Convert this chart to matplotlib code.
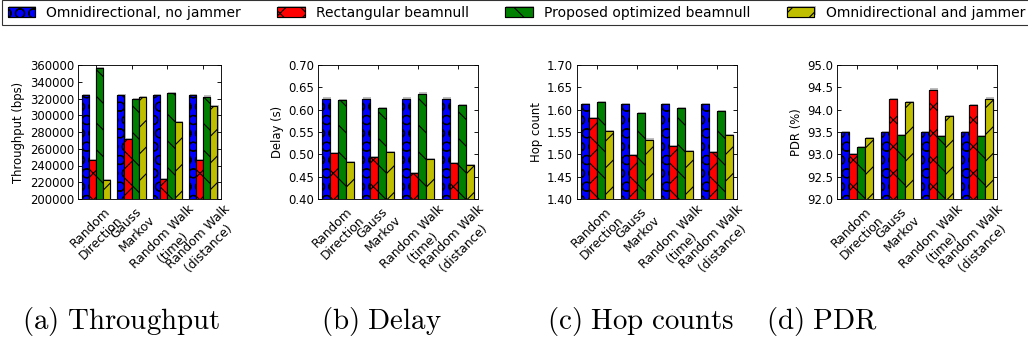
import numpy as np
import matplotlib
matplotlib.use("Agg")
import matplotlib.pyplot as plt
import matplotlib.patheffects as pe
from matplotlib.ticker import FormatStrFormatter

categories = ["Random\nDirection", "Gauss\nMarkov", "Random Walk\n(time)", "Random Walk\n(distance)"]
series_names = ["Omnidirectional, no jammer", "Rectangular beamnull",
                "Proposed optimized beamnull", "Omnidirectional and jammer"]

throughput_omni = [324000, 324000, 324000, 324000]
throughput_rect = [246500, 271500, 223800, 246500]
throughput_opt = [356400, 319500, 326600, 322300]
throughput_jam = [222600, 321500, 291700, 310800]

delay_omni = [0.625, 0.625, 0.625, 0.625]
delay_rect = [0.503, 0.494, 0.459, 0.480]
delay_opt = [0.622, 0.603, 0.636, 0.610]
delay_jam = [0.482, 0.505, 0.489, 0.476]

hop_omni = [1.613, 1.613, 1.613, 1.613]
hop_rect = [1.581, 1.499, 1.518, 1.505]
hop_opt = [1.617, 1.593, 1.603, 1.597]
hop_jam = [1.552, 1.533, 1.507, 1.543]

pdr_omni = [93.50, 93.50, 93.50, 93.50]
pdr_rect = [93.00, 94.24, 94.45, 94.10]
pdr_opt = [93.16, 93.44, 93.41, 93.40]
pdr_jam = [93.37, 94.17, 93.86, 94.25]

colors = [(0, 0, 1), (1, 0, 0), (0, 0.5, 0), (0.75, 0.75, 0)]
hatches = ["O", "x", "\\", "/"]

plt.rcParams["xtick.direction"] = "in"
plt.rcParams["ytick.direction"] = "in"
plt.rcParams["xtick.top"] = True
plt.rcParams["ytick.right"] = True
plt.rcParams["hatch.linewidth"] = 1.0
plt.rcParams["mathtext.fontset"] = "cm"

DPI = 80
W, H = 1028, 345
fig = plt.figure(figsize=(W / DPI, H / DPI), dpi=DPI)

shadow = [pe.withSimplePatchShadow(offset=(1, 1), shadow_rgbFace="0.5", alpha=0.5, hatch=None), pe.Normal()]


def add_axes(left, right, top, bottom):
    return fig.add_axes([left / W, 1 - bottom / H, (right - left) / W, (bottom - top) / H])


panels = [
    ((78, 221, 65, 199), [throughput_omni, throughput_rect, throughput_opt, throughput_jam],
     "Throughput (bps)", (200000, 360000), 20000, "%d", r"$\mathrm{(a)\ Throughput}$", 121),
    ((318, 478, 65, 199), [delay_omni, delay_rect, delay_opt, delay_jam],
     "Delay (s)", (0.40, 0.70), 0.05, "%.2f", r"$\mathrm{(b)\ Delay}$", 381),
    ((577, 737, 65, 199), [hop_omni, hop_rect, hop_opt, hop_jam],
     "Hop count", (1.40, 1.70), 0.05, "%.2f", r"$\mathrm{(c)\ Hop\ counts}$", 641),
    ((837, 997, 65, 199), [pdr_omni, pdr_rect, pdr_opt, pdr_jam],
     "PDR (%)", (92.0, 95.0), 0.5, "%.1f", r"$\mathrm{(d)\ PDR}$", 822),
]

ind = np.arange(len(categories))
width = 0.2
handles = []
for box, series, ylabel, ylim, step, fmt, caption, cx in panels:
    ax = add_axes(*box)
    handles = []
    for i, vals in enumerate(series):
        bars = ax.bar(ind + i * width, vals, width, align="edge", color=colors[i],
                      edgecolor="black", linewidth=1.0, hatch=hatches[i])
        for b in bars:
            b.set_path_effects(shadow)
        handles.append(bars)
    ax.set_xlim(-0.1, 3.9)
    ax.set_ylim(*ylim)
    ax.set_yticks(np.arange(ylim[0], ylim[1] + step / 2, step))
    ax.yaxis.set_major_formatter(FormatStrFormatter(fmt))
    ax.set_xticks(ind + 2 * width)
    ax.set_xticklabels(categories, rotation=45, fontsize=11)
    ax.tick_params(axis="y", labelsize=10.5)
    ax.tick_params(length=4)
    ax.set_ylabel(ylabel, fontsize=10.5)
    fig.text(cx / W, 1 - 321 / H, caption, fontsize=26, ha="center", va="center")

fig.legend(handles, series_names, loc="upper left", bbox_to_anchor=(2 / W, 1.0),
           ncol=4, fontsize=12.5, fancybox=False, edgecolor="black", borderaxespad=0,
           handlelength=2.0, handletextpad=0.8, columnspacing=2.6)

fig.savefig("out.png", dpi=DPI, facecolor="white")
